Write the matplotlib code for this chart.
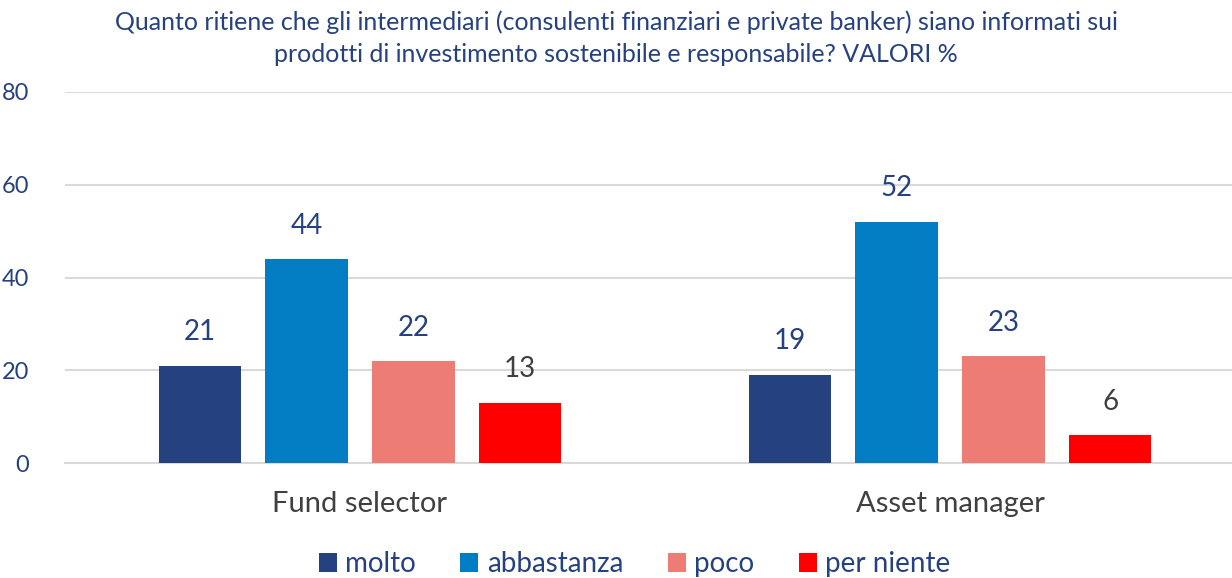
import matplotlib
matplotlib.use("Agg")
import matplotlib.pyplot as plt
import numpy as np
from matplotlib.patches import Patch

categories = ["Fund selector", "Asset manager"]
series = ["molto", "abbastanza", "poco", "per niente"]
values = {
    "molto": [21, 19],
    "abbastanza": [44, 52],
    "poco": [22, 23],
    "per niente": [13, 6],
}
yticks = [0, 20, 40, 60, 80]
title = ("Quanto ritiene che gli intermediari (consulenti finanziari e private banker) siano informati sui\n"
         "prodotti di investimento sostenibile e responsabile? VALORI %")

colors = ["#264180", "#027DC4", "#EC7C74", "#FF0000"]
text_blue = "#264180"

plt.rcParams['font.family'] = ['Lato', 'DejaVu Sans']

fig = plt.figure(figsize=(12.32, 5.78), dpi=100)
ax = fig.add_axes([65/1232, 1 - 463/578, (1232-65)/1232, (463-92)/578])

x = np.arange(len(categories))
step = 0.181
width = 0.14
for i, s in enumerate(series):
    pos = x + (i - 1.5) * step
    ax.bar(pos, values[s], width=width, color=colors[i], zorder=3)
    for xp, v in zip(pos, values[s]):
        c = "#404040" if v < 15 else text_blue
        ax.text(xp, v + 7.2, f"{v}", ha="center", va="center", fontsize=20, color=c)

ax.set_xlim(-0.5, (1232-360)/590)
ax.set_ylim(0, 80)
ax.set_yticks(yticks)
ax.set_yticklabels([str(t) for t in yticks], fontsize=17, color=text_blue)
ax.yaxis.grid(True, color="#d9d9d9", linewidth=1.5, zorder=0)
ax.set_axisbelow(True)
ax.tick_params(axis='y', length=0, pad=26)
ax.tick_params(axis='x', length=0, pad=20)
ax.set_xticks(x)
ax.set_xticklabels(categories, fontsize=21, color="#404040")
for sp in ax.spines.values():
    sp.set_visible(False)
ax.spines['bottom'].set_visible(True)
ax.spines['bottom'].set_color("#d9d9d9")
ax.spines['bottom'].set_linewidth(1.5)

fig.text(0.5, 1 - 38/578, title, ha="center", va="center", fontsize=18,
         color=text_blue, linespacing=1.5)

handles = [Patch(facecolor=c, edgecolor='none') for c in colors]
fig.legend(handles, series, loc="center", bbox_to_anchor=(0.515, 1 - 564/578),
           ncol=4, frameon=False, fontsize=20, handlelength=0.65, handleheight=0.65,
           handletextpad=0.3, columnspacing=1.6, labelcolor=text_blue)

fig.savefig("out.png", dpi=100)
